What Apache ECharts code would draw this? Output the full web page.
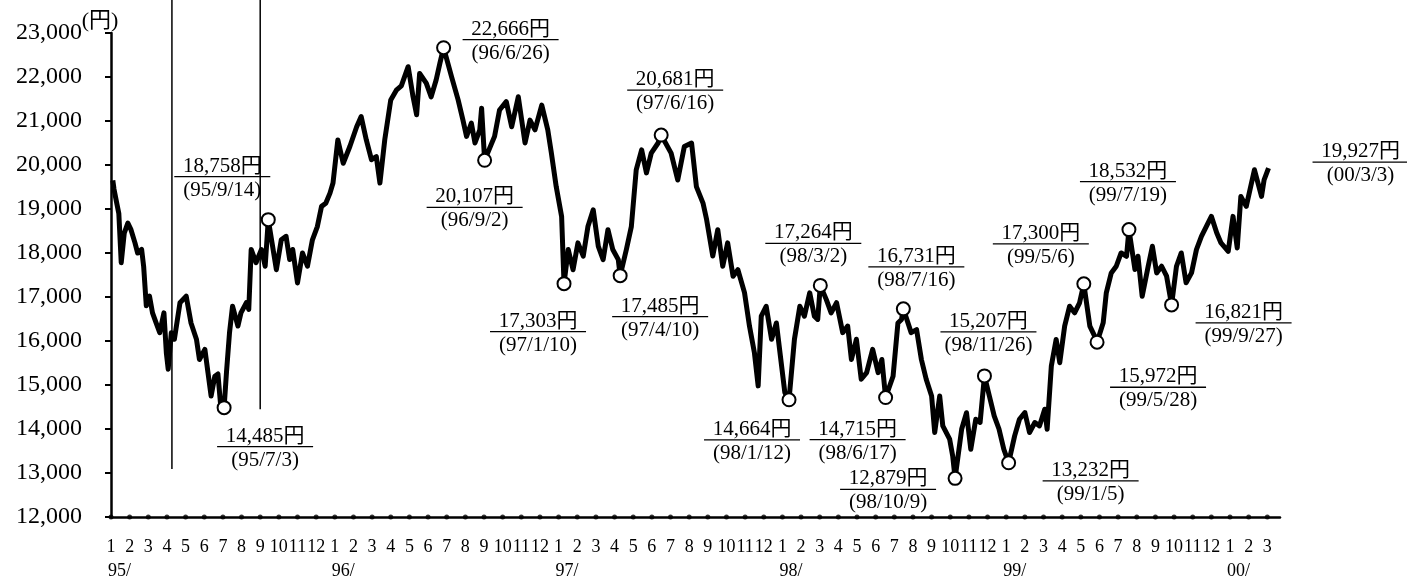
<!DOCTYPE html>
<html><head><meta charset="utf-8">
<script src="https://cdn.jsdelivr.net/npm/echarts@6/dist/echarts.min.js"></script>
<style>html,body{margin:0;padding:0;background:#fff}#c{width:1407px;height:580px}</style>
</head><body><div id="c"></div>
<script>
// ---- data ----
const priceDates = [
'1995-01-04','1995-01-06','1995-01-11','1995-01-14','1995-01-18','1995-01-23','1995-01-29','1995-02-03','1995-02-09','1995-02-13','1995-02-19','1995-02-22','1995-02-26','1995-03-03','1995-03-08','1995-03-14','1995-03-20','1995-03-27','1995-03-31','1995-04-03','1995-04-08','1995-04-13','1995-04-22','1995-05-02','1995-05-10','1995-05-19','1995-05-24','1995-06-02','1995-06-07','1995-06-12','1995-06-18','1995-06-23','1995-06-27','1995-07-03','1995-07-07','1995-07-12','1995-07-17','1995-07-26','1995-07-31','1995-08-09','1995-08-13','1995-08-17','1995-08-25','1995-09-03','1995-09-09','1995-09-14','1995-09-27','1995-10-05','1995-10-13','1995-10-19','1995-10-24','1995-11-01','1995-11-09','1995-11-17','1995-11-25','1995-12-03','1995-12-10','1995-12-17','1995-12-24','1995-12-29',
'1996-01-06','1996-01-15','1996-01-26','1996-02-06','1996-02-13','1996-02-21','1996-02-29','1996-03-08','1996-03-14','1996-03-22','1996-04-01','1996-04-10','1996-04-18','1996-04-29','1996-05-07','1996-05-13','1996-05-18','1996-05-29','1996-06-06','1996-06-14','1996-06-20','1996-06-26','1996-07-09','1996-07-20','1996-07-28','1996-08-03','1996-08-11','1996-08-17','1996-08-25','1996-08-28','1996-09-02','1996-09-18','1996-09-26','1996-10-07','1996-10-16','1996-10-27','1996-11-07','1996-11-15','1996-11-23','1996-12-04','1996-12-14','1996-12-20','1996-12-28',
'1997-01-06','1997-01-10','1997-01-17','1997-01-25','1997-02-02','1997-02-10','1997-02-17','1997-02-25','1997-03-05','1997-03-13','1997-03-21','1997-03-29','1997-04-07','1997-04-10','1997-04-20','1997-04-28','1997-05-06','1997-05-15','1997-05-23','1997-05-31','1997-06-11','1997-06-16','1997-07-02','1997-07-13','1997-07-24','1997-08-05','1997-08-13','1997-08-24','1997-08-30','1997-09-09','1997-09-17','1997-09-25','1997-10-03','1997-10-12','1997-10-20','1997-10-31','1997-11-08','1997-11-16','1997-11-22','1997-11-27','1997-12-05','1997-12-14','1997-12-22','1997-12-28',
'1998-01-05','1998-01-12','1998-01-21','1998-01-30','1998-02-06','1998-02-14','1998-02-21','1998-02-26','1998-03-02','1998-03-12','1998-03-20','1998-03-29','1998-04-08','1998-04-16','1998-04-22','1998-04-30','1998-05-08','1998-05-17','1998-05-27','1998-06-05','1998-06-11','1998-06-17','1998-06-29','1998-07-07','1998-07-13','1998-07-16','1998-07-29','1998-08-07','1998-08-15','1998-08-23','1998-09-01','1998-09-06','1998-09-14','1998-09-19','1998-09-30','1998-10-05','1998-10-09','1998-10-20','1998-10-28','1998-11-04','1998-11-12','1998-11-19','1998-11-26','1998-12-04','1998-12-12','1998-12-20','1998-12-28',
'1999-01-05','1999-01-15','1999-01-23','1999-02-01','1999-02-08','1999-02-16','1999-02-23','1999-03-03','1999-03-07','1999-03-14','1999-03-22','1999-03-28','1999-04-05','1999-04-13','1999-04-21','1999-04-29','1999-05-06','1999-05-16','1999-05-24','1999-05-28','1999-06-07','1999-06-12','1999-06-20','1999-06-28','1999-07-06','1999-07-15','1999-07-19','1999-07-29','1999-08-03','1999-08-10','1999-08-20','1999-08-27','1999-09-03','1999-09-11','1999-09-19','1999-09-27','1999-10-05','1999-10-13','1999-10-21','1999-10-30','1999-11-07','1999-11-15','1999-11-23','1999-12-01','1999-12-10','1999-12-17','1999-12-29',
'2000-01-06','2000-01-13','2000-01-19','2000-01-28','2000-02-10','2000-02-21','2000-02-25','2000-03-03'
];
const priceValues = [
19650,19450,19100,18900,17780,18450,18680,18530,18230,18000,18080,17700,16800,17020,16640,16410,16190,16640,15730,15360,16190,16040,16870,17020,16410,16040,15580,15810,15280,14750,15200,15250,14600,14485,15300,16190,16790,16340,16640,16870,16720,18080,17780,18080,17700,18758,17620,18300,18380,17850,18080,17320,18000,17700,18300,18600,19060,19130,19360,19590,
20570,20040,20420,20870,21100,20570,20120,20190,19590,20570,21480,21700,21800,22234,21554,21140,22080,21860,21550,21930,22310,22666,22010,21480,21020,20650,20950,20500,20800,21290,20107,20650,21250,21440,20870,21550,20500,21020,20800,21360,20800,20270,19510,
18830,17303,18080,17620,18230,17930,18600,18980,18150,17850,18530,18080,17850,17485,18080,18600,19890,20345,19820,20270,20500,20681,20270,19660,20420,20500,19510,19135,18760,17930,18530,17700,18230,17470,17620,17100,16340,15730,14980,16565,16790,16040,16410,15730,
14830,14664,16040,16790,16565,17095,16565,16490,17264,16940,16640,16870,16190,16340,15580,16040,15130,15280,15810,15280,15580,14715,15200,16410,16490,16731,16190,16260,15580,15130,14750,13920,14750,14070,13770,13390,12879,14000,14370,13540,14220,14150,15207,14750,14300,14000,13540,
13232,13844,14222,14374,13920,14147,14071,14449,13995,15431,16036,15507,16339,16791,16641,16868,17300,16339,16111,15972,16414,17095,17548,17699,18001,17926,18532,17624,17926,17018,17699,18152,17548,17699,17472,16821,17699,18001,17322,17548,18077,18379,18605,18832,18455,18228,18039,
18832,18115,19286,19059,19891,19286,19664,19927
];

const annoDates = ['1995-09-14','1995-07-03','1996-06-26','1996-09-02','1997-06-16','1997-01-10','1997-04-10','1998-01-12','1998-03-02','1998-06-17','1998-07-16','1998-10-09','1998-11-26','1999-01-05','1999-05-06','1999-05-28','1999-07-19','1999-09-27','2000-03-03'];
const annoValues = [18758,14485,22666,20107,20681,17303,17485,14664,17264,14715,16731,12879,15207,13232,17300,15972,18532,16821,19927];
const annoDateLabels = ['(95/9/14)','(95/7/3)','(96/6/26)','(96/9/2)','(97/6/16)','(97/1/10)','(97/4/10)','(98/1/12)','(98/3/2)','(98/6/17)','(98/7/16)','(98/10/9)','(98/11/26)','(99/1/5)','(99/5/6)','(99/5/28)','(99/7/19)','(99/9/27)','(00/3/3)'];

const guideDates = ['1995-04-09','1995-09-01'];
const guideTops = [23750, 23750];
const guideBottoms = [13090, 14450];

const monthNames = ['1','2','3','4','5','6','7','8','9','10','11','12'];
const yearLabels = ['95/','96/','97/','98/','99/','00/'];
const yMin = 12000, yMax = 23000, yStep = 1000;
const monthSpan = 62; // Jan 1995 .. Mar 2000

// ---- layout / style (not data) ----
const annoOffsets = [[-46,-40],[41,42],[67,-5],[-10,50],[14,-42],[-26,51],[40,44],[-37,43],[-7,-39],[-28,45],[13,-39],[-67,14],[4,-41],[82,21],[-43,-37],[61,48],[-1,-45],[72,21],[92,-3]];
const annoCircle = [1,1,1,1,1,1,1,1,1,1,1,1,1,1,1,1,1,1,0];
const X_MAX = 62.68;
const FONT = "'Liberation Serif','Noto Sans CJK JP',serif";

function toMonths(s){
  const p = s.split('-').map(Number);
  const dim = new Date(p[0], p[1], 0).getDate();
  return (p[0]-1995)*12 + (p[1]-1) + (p[2]-1)/dim;
}
function isInt(v){ return Math.abs(v - Math.round(v)) < 1e-6; }

const lineData = priceDates.map((d,i)=>[toMonths(d), priceValues[i]]);
const annoData = annoDates.map((d,i)=>({
  value:[toMonths(d), annoValues[i]],
  symbolSize: annoCircle[i] ? 13 : 0,
  label:{offset: annoOffsets[i]}
}));
const dotData = [];
for (let m=0; m<=monthSpan; m++) dotData.push([m, yMin]);

const series = [
  {type:'line', data: lineData, showSymbol:false, symbol:'none', smooth:false,
   lineStyle:{color:'#000', width:5, join:'round'}, z:3, animation:false}
];
guideDates.forEach((d,i)=>{
  series.push({type:'line', data:[[toMonths(d), guideTops[i]],[toMonths(d), guideBottoms[i]]],
    symbol:'none', clip:false, lineStyle:{color:'#000', width:1.5}, z:2, animation:false, silent:true});
});
series.push({type:'scatter', data: dotData, symbol:'circle', symbolSize:5, clip:false,
  itemStyle:{color:'#000'}, z:5, animation:false, silent:true});
series.push({type:'scatter', data: annoData, symbol:'circle', clip:false,
  itemStyle:{color:'#fff', borderColor:'#000', borderWidth:2, opacity:1}, z:6, animation:false,
  label:{show:true, position:'inside', align:'center', verticalAlign:'middle', color:'#000',
    formatter: p => '{v|' + echarts.format.addCommas(annoValues[p.dataIndex]) + '円}\n{u|}\n{d|' + annoDateLabels[p.dataIndex] + '}',
    rich:{
      v:{fontSize:21, lineHeight:18, fontFamily:FONT, color:'#000', align:'center'},
      u:{width:96, height:0, lineHeight:3, borderWidth:1.3, borderColor:'#000', align:'center'},
      d:{fontSize:21, lineHeight:24, fontFamily:FONT, color:'#000', align:'center'}
    }}
});

const chart = echarts.init(document.getElementById('c'), null, {renderer:'canvas'});
chart.setOption({
  animation:false,
  backgroundColor:'#fff',
  grid:{left:111, right:127, top:33, bottom:62, containLabel:false},
  xAxis:[
    {type:'value', min:0, max:X_MAX, interval:1, position:'bottom',
     axisLine:{show:true, lineStyle:{color:'#000', width:2.5}},
     axisTick:{show:false}, splitLine:{show:false},
     axisLabel:{show:true, margin:21, color:'#000', hideOverlap:false, showMinLabel:true, showMaxLabel:true,
       fontSize:18, fontFamily:FONT,
       formatter: v => isInt(v) ? monthNames[Math.round(v) % 12] : ''}
    },
    {type:'value', min:0, max:X_MAX, interval:1, position:'bottom', offset:0,
     axisLine:{show:false}, axisTick:{show:false}, splitLine:{show:false},
     axisLabel:{show:true, margin:45, color:'#000', hideOverlap:false, showMinLabel:true,
       fontSize:18, fontFamily:FONT, align:'left', padding:[0,0,0,-3],
       formatter: v => (isInt(v) && Math.round(v) % 12 === 0) ? yearLabels[Math.round(v)/12] : ''}
    }
  ],
  yAxis:{type:'value', min:yMin, max:yMax, interval:yStep,
    name:'(円)', nameLocation:'end', nameGap:1, nameMoveOverlap:false,
    nameTextStyle:{fontSize:22, fontFamily:FONT, color:'#000', align:'center', verticalAlign:'bottom', padding:[0,22,0,0]},
    axisLine:{show:true, lineStyle:{color:'#000', width:2.5}},
    axisTick:{show:true, inside:false, length:6, lineStyle:{color:'#000', width:2}},
    splitLine:{show:false},
    axisLabel:{show:true, margin:29, color:'#000', fontSize:24, fontFamily:FONT,
      formatter: v => echarts.format.addCommas(v)}
  },
  series: series
});
</script></body></html>
